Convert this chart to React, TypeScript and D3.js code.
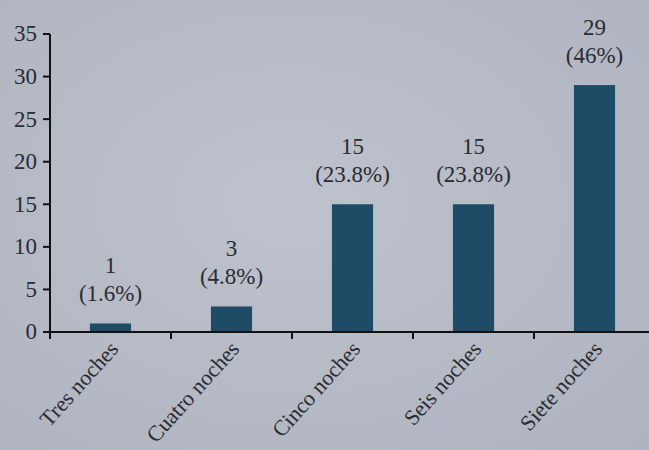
import React from "react";
import * as d3 from "d3";

const categories = ["Tres noches", "Cuatro noches", "Cinco noches", "Seis noches", "Siete noches"];
const counts = [1, 3, 15, 15, 29];
const percents = ["(1.6%)", "(4.8%)", "(23.8%)", "(23.8%)", "(46%)"];
const yTicks = [0, 5, 10, 15, 20, 25, 30, 35];

const W = 649;
const H = 450;
const FONT = "'Liberation Serif', 'Times New Roman', serif";
const INK = "#2b2c33";
const BAR = "#1e4c66";

export default function App() {
  const x = d3
    .scaleBand<string>()
    .domain(categories)
    .range([50, 655])
    .paddingInner(0.66)
    .paddingOuter(0.33);
  const y = d3.scaleLinear().domain([0, 35]).range([332, 34]);
  const step = x.step();
  const x0 = 50;

  return (
    <div style={{ position: "absolute", left: 0, top: 0 }}>
      <svg width={W} height={H} style={{ display: "block" }}>
        <defs>
          <radialGradient id="paper" cx="45%" cy="45%" r="75%">
            <stop offset="0%" stopColor="#bdc2cc" />
            <stop offset="100%" stopColor="#afb4c0" />
          </radialGradient>
        </defs>
        <rect width={W} height={H} fill="url(#paper)" />

        {/* bars */}
        {categories.map((c, i) => (
          <rect
            key={c}
            x={x(c)}
            y={y(counts[i])}
            width={x.bandwidth()}
            height={y(0) - y(counts[i])}
            fill={BAR}
          />
        ))}

        {/* value labels: count above percentage */}
        {categories.map((c, i) => {
          const cx = (x(c) as number) + x.bandwidth() / 2;
          const top = y(counts[i]);
          return (
            <g key={c} fontFamily={FONT} fontSize={23} fill={INK} textAnchor="middle">
              <text x={cx} y={top - 50}>{counts[i]}</text>
              <text x={cx} y={top - 22}>{percents[i]}</text>
            </g>
          );
        })}

        {/* y axis */}
        <line x1={x0} x2={x0} y1={y(35)} y2={y(0)} stroke="#111" strokeWidth={2} />
        {yTicks.map((t) => (
          <g key={t}>
            <line x1={x0 - 7} x2={x0} y1={y(t)} y2={y(t)} stroke="#111" strokeWidth={2} />
            <text
              x={x0 - 13}
              y={y(t)}
              dy="0.32em"
              textAnchor="end"
              fontFamily={FONT}
              fontSize={23}
              fill={INK}
            >
              {t}
            </text>
          </g>
        ))}

        {/* x axis */}
        <line x1={x0 - 7} x2={W} y1={y(0)} y2={y(0)} stroke="#111" strokeWidth={2} />
        {d3.range(categories.length + 1).map((i) => (
          <line
            key={i}
            x1={x0 + step * i}
            x2={x0 + step * i}
            y1={y(0)}
            y2={y(0) + 7}
            stroke="#111"
            strokeWidth={2}
          />
        ))}
        {categories.map((c) => {
          const cx = (x(c) as number) + x.bandwidth() / 2 + 9;
          return (
            <text
              key={c}
              transform={`translate(${cx},${y(0) + 18}) rotate(-48)`}
              textAnchor="end"
              fontFamily={FONT}
              fontSize={22}
              fill={INK}
            >
              {c}
            </text>
          );
        })}
      </svg>
    </div>
  );
}
